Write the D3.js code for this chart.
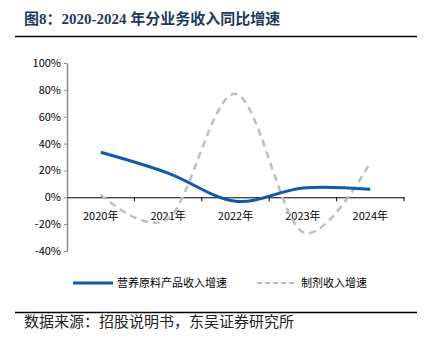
<!DOCTYPE html>
<html><head><meta charset="utf-8">
<script src="https://cdn.jsdelivr.net/npm/d3@7"></script>
<style>body{margin:0;background:#fff}svg{display:block}</style>
</head><body>
<script>
const categories = ["2020年","2021年","2022年","2023年","2024年"];
const nutritionGrowth = [33.5, 18, -3, 7, 6];
const formulationGrowth = [2, -16, 77, -26, 26];
const yTicks = [-40,-20,0,20,40,60,80,100];
const seriesNames = ["营养原料产品收入增速","制剂收入增速"];
const titleText = "图8：2020-2024 年分业务收入同比增速";
const sourceText = "数据来源：招股说明书，东吴证券研究所";

const W=431,H=343;
const svg=d3.select("body").append("svg").attr("width",W).attr("height",H);
const font="'Noto Sans CJK SC','Microsoft YaHei',sans-serif";

// title
svg.append("text").attr("x",24).attr("y",24).attr("font-family","'Liberation Serif','Noto Sans CJK SC',serif")
  .attr("font-weight","bold").attr("font-size",15).attr("fill","#1F3A5F").text(titleText);
svg.append("line").attr("x1",15).attr("x2",417).attr("y1",36.5).attr("y2",36.5).attr("stroke","#000").attr("stroke-width",1.5);

const x=d3.scaleBand().domain(categories).range([67,404]);
const y=d3.scaleLinear().domain([-40,100]).range([251,63]);

// y axis
const ya=svg.append("g").attr("transform","translate(67,0)")
  .call(d3.axisLeft(y).tickValues(yTicks).tickFormat(d=>d+"%").tickSize(3).tickSizeOuter(0));
ya.select(".domain").attr("stroke","#8c8c8c").attr("stroke-width",1.5);
ya.selectAll(".tick line").attr("stroke","#8c8c8c");
ya.selectAll(".tick text").attr("font-family",font).attr("font-size",11).attr("fill","#000").attr("x",-6);

// x axis at 0
const xa=svg.append("g").attr("transform",`translate(0,${y(0)})`)
  .call(d3.axisBottom(x).tickSize(0).tickSizeOuter(0));
xa.select(".domain").attr("stroke","#000").attr("stroke-width",1);
xa.selectAll(".tick text").attr("font-family",font).attr("font-size",11).attr("fill","#000").attr("dy","0.95em").attr("y",12);
svg.append("g").selectAll("line").data(categories.slice(1).concat(["end"])).join("line")
  .attr("x1",(d,i)=>x.range()[0]+x.step()*(i+1)).attr("x2",(d,i)=>x.range()[0]+x.step()*(i+1))
  .attr("y1",y(0)).attr("y2",y(0)+4).attr("stroke","#000");

const line=d3.line().x((d,i)=>x(categories[i])+x.bandwidth()/2).y(d=>y(d)).curve(d3.curveCardinal.tension(0));
svg.append("path").attr("d",line(formulationGrowth)).attr("fill","none").attr("stroke","#BFBFBF")
  .attr("stroke-width",2.5).attr("stroke-dasharray","7,5");
svg.append("path").attr("d",line(nutritionGrowth)).attr("fill","none").attr("stroke","#0E5CA8")
  .attr("stroke-width",3);

// legend
const lg=svg.append("g");
lg.append("line").attr("x1",73).attr("x2",113).attr("y1",283).attr("y2",283).attr("stroke","#0E5CA8").attr("stroke-width",3);
lg.append("text").attr("x",117).attr("y",287).attr("font-family",font).attr("font-size",11).text(seriesNames[0]);
lg.append("line").attr("x1",257).attr("x2",297).attr("y1",283).attr("y2",283).attr("stroke","#BFBFBF").attr("stroke-width",2).attr("stroke-dasharray","5,3");
lg.append("text").attr("x",301).attr("y",287).attr("font-family",font).attr("font-size",11).text(seriesNames[1]);

svg.append("line").attr("x1",15).attr("x2",417).attr("y1",312.5).attr("y2",312.5).attr("stroke","#000").attr("stroke-width",1.5);
svg.append("text").attr("x",24).attr("y",327).attr("font-family",font).attr("font-size",15).attr("fill","#222").text(sourceText);
</script>
</body></html>
